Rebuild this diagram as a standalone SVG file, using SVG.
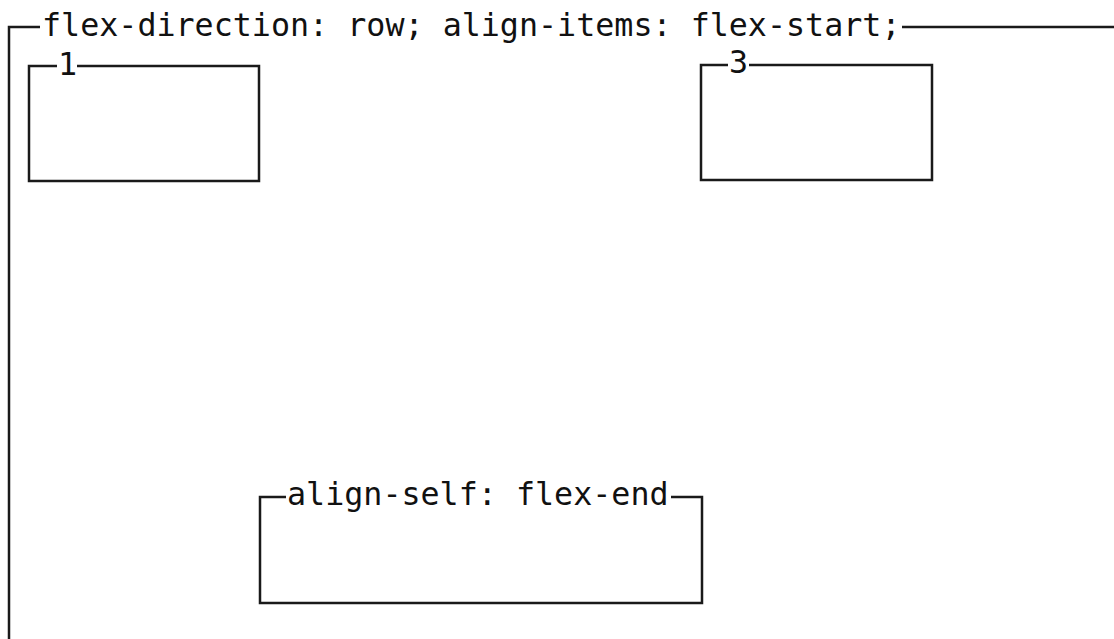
<svg xmlns="http://www.w3.org/2000/svg" width="1114" height="639" viewBox="0 0 1114 639">
<style>
.ln{fill:none;stroke:#1a1a1a;stroke-width:2.5;stroke-linecap:butt;stroke-linejoin:miter}
.t{font-family:"DejaVu Sans Mono","Liberation Mono",monospace;font-size:31.7px;fill:#111}
</style>
<rect width="1114" height="639" fill="#ffffff"/>
<g id="container">
<path class="ln" d="M9,639 V27 H40 M902,27 H1114"/>
<text class="t" x="42" y="36">flex-direction: row; align-items: flex-start;</text>
</g>
<g id="item1">
<path class="ln" d="M57,66 H29 V181 H259 V66 H77"/>
<text class="t" x="58" y="75">1</text>
</g>
<g id="item3">
<path class="ln" d="M728,65 H701 V180 H932 V65 H749"/>
<text class="t" x="729" y="73">3</text>
</g>
<g id="item2">
<path class="ln" d="M286,497 H260 V603 H702 V497 H671"/>
<text class="t" x="287" y="505">align-self: flex-end</text>
</g>
<g id="connectors"/>
</svg>
